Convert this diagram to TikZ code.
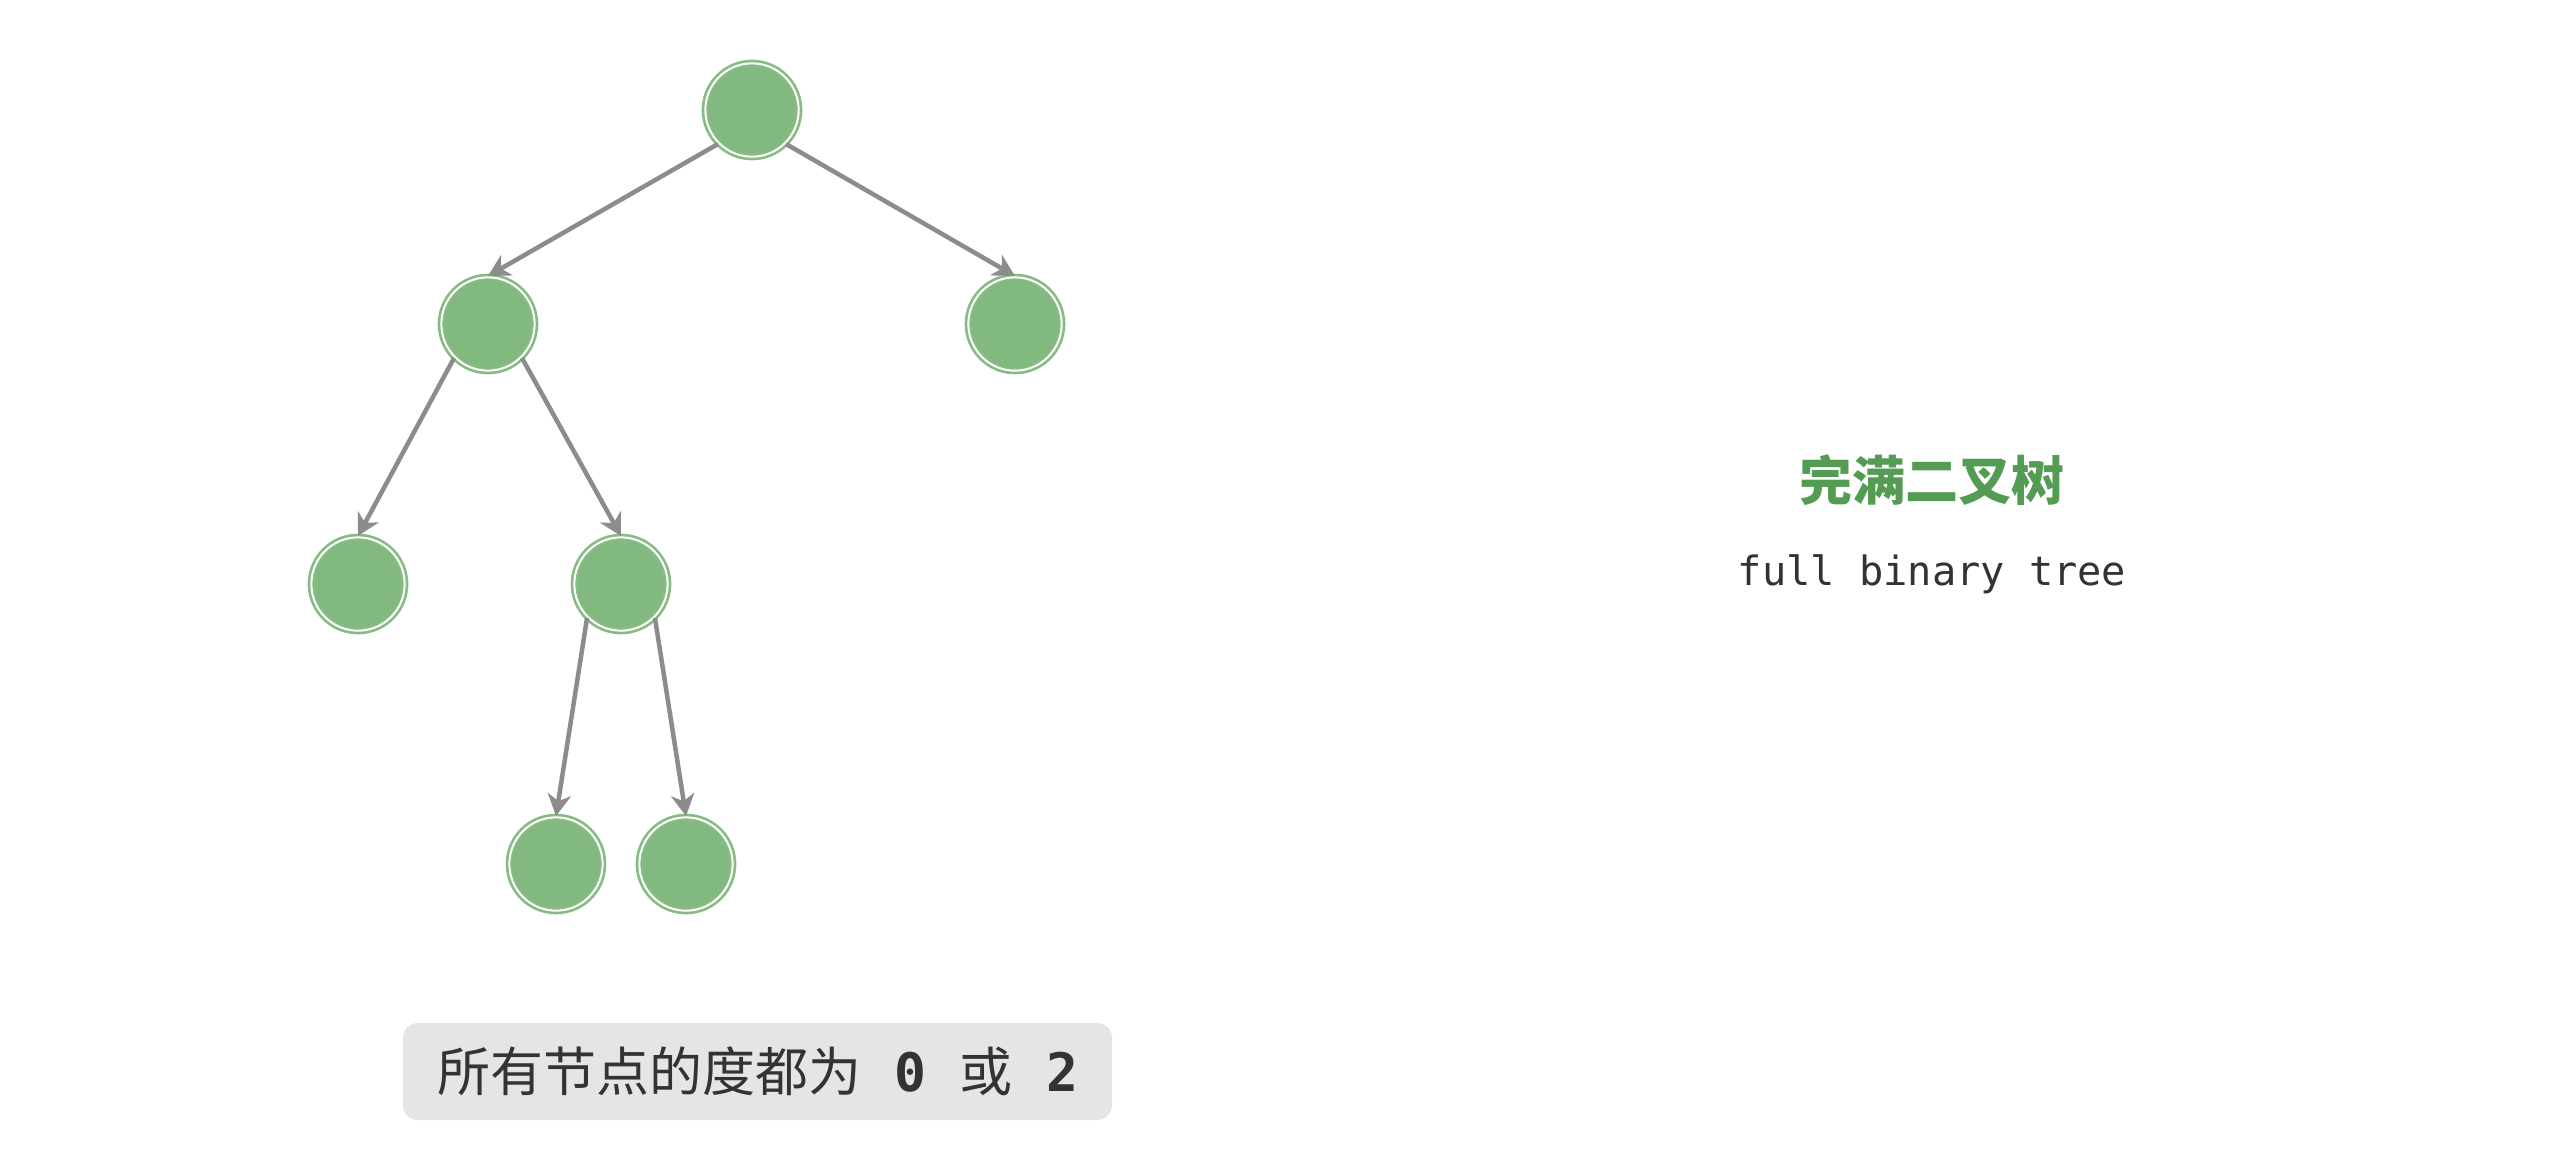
\documentclass[tikz,border=0pt]{standalone}
\usepackage{fontspec}
\setmonofont{DejaVu Sans Mono}
\newfontfamily\cjk{Noto Sans CJK SC}
\usetikzlibrary{arrows.meta}
\definecolor{nodegreen}{HTML}{82B97F}
\definecolor{ringgreen}{HTML}{86BC83}
\definecolor{edgegray}{HTML}{8C8C8C}
\definecolor{titlegreen}{HTML}{549B54}
\definecolor{txtgray}{HTML}{333333}
\definecolor{boxgray}{HTML}{E5E5E5}
\begin{document}
\begin{tikzpicture}[x=0.3pt,y=-0.3pt,
  tn/.style={circle, fill=nodegreen, draw=ringgreen, line width=0.8pt, double=white, double distance=0.6pt, minimum size=28.0pt, inner sep=0pt},
  edge/.style={draw=edgegray, line width=1.35pt, -{Stealth[length=6.5pt,width=7pt,inset=2pt]}}]
\fill[white] (0,0) rectangle (2550,1148);
\useasboundingbox (0,0) rectangle (2550,1148);
\node[tn] (r) at (752,110) {};
\node[tn] (a) at (488,324) {};
\node[tn] (b) at (1015,324) {};
\node[tn] (c) at (358,584) {};
\node[tn] (d) at (621,584) {};
\node[tn] (e) at (556,864) {};
\node[tn] (f) at (686,864) {};
\draw[edge] (r.south west) -- (a.north);
\draw[edge] (r.south east) -- (b.north);
\draw[edge] (a.south west) -- (c.north);
\draw[edge] (a.south east) -- (d.north);
\draw[edge] (d.south west) -- (e.north);
\draw[edge] (d.south east) -- (f.north);
\node[text=titlegreen, font=\cjk\bfseries\fontsize{15.9pt}{18pt}\selectfont] (title) at (1932,480) {完满二叉树};
\node[text=txtgray, font=\ttfamily\fontsize{12.1pt}{14pt}\selectfont] (sub) at (1932,574) {full binary tree};
\node[fill=boxgray, rounded corners=4.5pt, minimum width=212.7pt, minimum height=29.1pt, inner sep=0pt, text=txtgray, font=\cjk\fontsize{15.9pt}{18pt}\selectfont] (note) at (757.5,1071.5) {所有节点的度都为\hspace{10pt}{\ttfamily\bfseries 0}\hspace{10pt}或\hspace{10pt}{\ttfamily\bfseries 2}};
\end{tikzpicture}
\end{document}
